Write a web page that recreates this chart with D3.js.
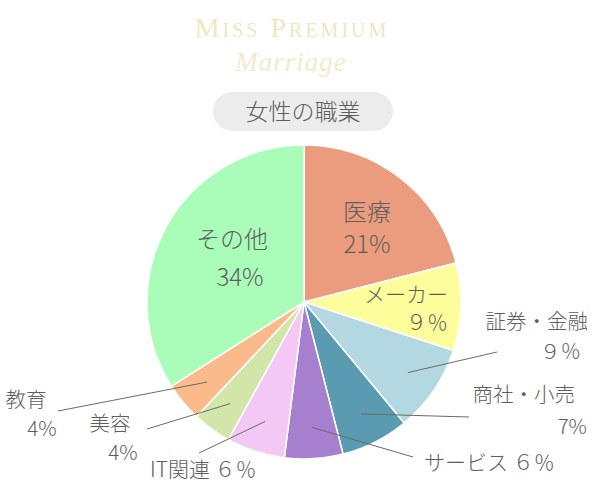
<!DOCTYPE html>
<meta charset="utf-8">
<style>

body {
  margin: 0;
  background: #fff;
}

.label {
  font-family: "Noto Sans CJK JP", "Noto Sans", sans-serif;
  font-weight: 300;
  fill: #5e5e5e;
}

.leader {
  stroke: #6a6a6a;
  stroke-width: 1px;
  fill: none;
}

</style>
<body>
<script src="https://d3js.org/d3.v7.js"></script>
<script>

// data
const categories = ["医療", "メーカー", "証券・金融", "商社・小売", "サービス", "IT関連", "美容", "教育", "その他"];
const shares = [21, 9, 9, 7, 6, 6, 4, 4, 34];
const pctLabels = ["21%", "９％", "９％", "7%", "６％", "６％", "4%", "4%", "34%"];
const colors = ["#eb9c7f", "#fdfd9c", "#b3d8e1", "#5b9bb1", "#a67fcf", "#f4c8f4", "#d2e6a9", "#fbba8b", "#a9fdb9"];

const width = 600;
const height = 500;
const cx = 304, cy = 302, radius = 157;

// label layout, relative to pie centre
// inside: text lines placed in slice; outside: leader line + text
const layout = [
  {kind: "in", lines: [{dx: 63, dy: -89, anchor: "middle", part: "name"}, {dx: 63, dy: -57, anchor: "middle", part: "pct"}], size: 24},
  {kind: "in", lines: [{dx: 144, dy: -7, anchor: "end", part: "name"}, {dx: 144, dy: 21, anchor: "end", part: "pct"}], size: 21},
  {kind: "out", end: [193, 50], lines: [{dx: 284, dy: 20, anchor: "end", part: "name"}, {dx: 277, dy: 50, anchor: "end", part: "pct"}], size: 20.5},
  {kind: "out", end: [165, 115], lines: [{dx: 271, dy: 93, anchor: "end", part: "name"}, {dx: 283, dy: 125, anchor: "end", part: "pct"}], size: 20.5},
  {kind: "out", end: [109, 155], lines: [{dx: 120, dy: 161, anchor: "start", part: "both"}], size: 21},
  {kind: "out", end: [-105, 151], lines: [{dx: -154, dy: 168, anchor: "start", part: "both"}], size: 21},
  {kind: "out", end: [-157, 127], lines: [{dx: -194, dy: 122, anchor: "middle", part: "name"}, {dx: -181, dy: 151, anchor: "middle", part: "pct"}], size: 20.5},
  {kind: "out", end: [-246, 109], lines: [{dx: -278, dy: 98, anchor: "middle", part: "name"}, {dx: -262, dy: 127, anchor: "middle", part: "pct"}], size: 20.5},
  {kind: "in", lines: [{dx: -72, dy: -62, anchor: "middle", part: "name"}, {dx: -64, dy: -24, anchor: "middle", part: "pct"}], size: 24}
];

const slices = categories.map((name, i) => ({name: name, value: shares[i], pct: pctLabels[i], color: colors[i], lay: layout[i]}));

const svg = d3.select("body").append("svg")
    .attr("width", width)
    .attr("height", height);

// header
svg.append("text")
    .attr("x", 292)
    .attr("y", 37)
    .attr("text-anchor", "middle")
    .style("font-family", "'Liberation Serif', 'DejaVu Serif', serif")
    .style("font-size", "28px")
    .style("font-variant", "small-caps")
    .style("letter-spacing", "3px")
    .style("fill", "#f0e7c0")
    .text("Miss Premium");

svg.append("text")
    .attr("x", 291)
    .attr("y", 71)
    .attr("text-anchor", "middle")
    .style("font-family", "'Liberation Serif', 'DejaVu Serif', serif")
    .style("font-style", "italic")
    .style("font-size", "27px")
    .style("letter-spacing", "1px")
    .style("fill", "#f3ebc9")
    .text("Marriage");

svg.append("rect")
    .attr("x", 213)
    .attr("y", 92)
    .attr("width", 180)
    .attr("height", 39)
    .attr("rx", 19.5)
    .attr("fill", "#ececec");

svg.append("text")
    .attr("class", "label")
    .attr("x", 303)
    .attr("y", 112)
    .attr("dy", "0.35em")
    .attr("text-anchor", "middle")
    .style("font-size", "23px")
    .text("女性の職業");

// pie
const pie = d3.pie()
    .value(d => d.value)
    .sort(null);

const arc = d3.arc()
    .innerRadius(0)
    .outerRadius(radius);

const g = svg.append("g")
    .attr("transform", `translate(${cx}, ${cy})`);

const arcs = pie(slices);

g.selectAll(".slice")
    .data(arcs)
  .enter().append("path")
    .attr("class", "slice")
    .attr("d", arc)
    .attr("fill", d => d.data.color)
    .attr("stroke", "#fff")
    .attr("stroke-width", 1.5);

// leader lines start inside the slice
const inner = d3.arc()
    .innerRadius(radius * 0.8)
    .outerRadius(radius * 0.8);

g.selectAll(".leader")
    .data(arcs.filter(d => d.data.lay.kind === "out"))
  .enter().append("line")
    .attr("class", "leader")
    .attr("x1", d => inner.centroid(d)[0])
    .attr("y1", d => inner.centroid(d)[1])
    .attr("x2", d => d.data.lay.end[0])
    .attr("y2", d => d.data.lay.end[1]);

// one text per slice, lines as tspans
const labels = g.selectAll(".label")
    .data(arcs)
  .enter().append("text")
    .attr("class", "label")
    .style("font-size", d => d.data.lay.size + "px");

labels.each(function(d) {
  const t = d3.select(this);
  d.data.lay.lines.forEach(function(l) {
    const txt = l.part === "name" ? d.data.name
      : l.part === "pct" ? d.data.pct
      : d.data.name + " " + d.data.pct;
    t.append("tspan")
        .attr("x", l.dx)
        .attr("y", l.dy)
        .attr("dy", "0.35em")
        .attr("text-anchor", l.anchor)
        .text(txt);
  });
});

</script>
